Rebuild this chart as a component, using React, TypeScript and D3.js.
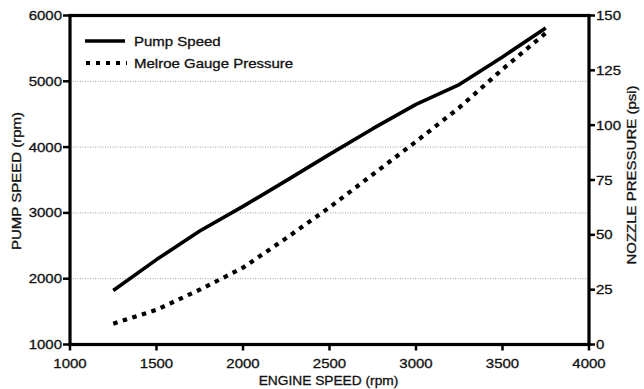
import React from "react";
import * as d3 from "d3";

const engineSpeed = [1250, 1500, 1750, 2000, 2250, 2500, 2750, 3000, 3250, 3500, 3750];
const pumpSpeed = [1820, 2290, 2725, 3100, 3490, 3890, 4280, 4650, 4950, 5370, 5810];
const gaugePressure = [9.5, 15.8, 25, 35, 48.5, 62.5, 77.5, 92.5, 108, 125.5, 142];
const xTicks = [1000, 1500, 2000, 2500, 3000, 3500, 4000];
const leftTicks = [1000, 2000, 3000, 4000, 5000, 6000];
const rightTicks = [0, 25, 50, 75, 100, 125, 150];
const gridValues = [2000, 3000, 4000, 5000];
const legendLabels = ["Pump Speed", "Melroe Gauge Pressure"];
const axisTitles = ["ENGINE SPEED (rpm)", "PUMP SPEED (rpm)", "NOZZLE PRESSURE (psi)"];

const SX = 1.2;

function T({ x, y, rot = 0, anchor = "start", size = 12.5, sx = SX, children }: any) {
  return (
    <text
      transform={`translate(${x},${y}) rotate(${rot}) scale(${sx},1)`}
      textAnchor={anchor}
      fontSize={size}
      fill="#111"
      stroke="#111"
      strokeWidth={0.3}
    >
      {children}
    </text>
  );
}

export default function App() {
  const W = 644, H = 389;
  const left = 70, right = 589, top = 15.5, bottom = 344.5;
  const x = d3.scaleLinear().domain([1000, 4000]).range([left, right]);
  const yL = d3.scaleLinear().domain([1000, 6000]).range([bottom, top]);
  const yR = d3.scaleLinear().domain([0, 150]).range([bottom, top]);
  const pumpLine = d3.line<number>().x((d, i) => x(engineSpeed[i])).y((d) => yL(d))(pumpSpeed) || "";
  const presLine = d3.line<number>().x((d, i) => x(engineSpeed[i])).y((d) => yR(d))(gaugePressure) || "";
  const font = "'Liberation Sans', Arial, Helvetica, sans-serif";
  return (
    <svg width={W} height={H} style={{ position: "absolute", left: 0, top: 0, background: "#fff" }} fontFamily={font}>
      <rect x={0} y={0} width={W} height={H} fill="#fff" />
      {gridValues.map((v) => (
        <line key={v} x1={left} x2={right} y1={yL(v)} y2={yL(v)} stroke="#a0a0a0" strokeWidth={1} strokeDasharray="1,1.5" />
      ))}
      <path d={pumpLine} fill="none" stroke="#000" strokeWidth={3.6} strokeLinejoin="round" />
      <path d={presLine} fill="none" stroke="#000" strokeWidth={4.2} strokeDasharray="4.5,5.5" />
      <rect x={left} y={top} width={right - left} height={bottom - top} fill="none" stroke="#000" strokeWidth={3.2} />
      {xTicks.map((v) => (
        <g key={v}>
          <line x1={x(v)} x2={x(v)} y1={bottom} y2={bottom + 6} stroke="#000" strokeWidth={2.5} />
          <T x={x(v)} y={bottom + 23} anchor="middle">{v}</T>
        </g>
      ))}
      {leftTicks.map((v) => (
        <g key={v}>
          <line x1={left - 7} x2={left} y1={yL(v)} y2={yL(v)} stroke="#000" strokeWidth={2.5} />
          <T x={left - 8} y={yL(v) + 4.5} anchor="end">{v}</T>
        </g>
      ))}
      {rightTicks.map((v) => (
        <g key={v}>
          <line x1={right} x2={right + 6} y1={yR(v)} y2={yR(v)} stroke="#000" strokeWidth={2.5} />
          <T x={right + 7} y={yR(v) + 4.5}>{v}</T>
        </g>
      ))}
      <T x={(left + right) / 2 - 1} y={385} anchor="middle" size={12.5} sx={1.1}>{axisTitles[0]}</T>
      <T x={21} y={181} rot={-90} anchor="middle">{axisTitles[1]}</T>
      <T x={636} y={175} rot={-90} anchor="middle">{axisTitles[2]}</T>
      <line x1={85} x2={125} y1={41} y2={41} stroke="#000" strokeWidth={3.6} />
      <T x={134} y={45.5}>{legendLabels[0]}</T>
      <line x1={86} x2={127} y1={63} y2={63} stroke="#000" strokeWidth={4} strokeDasharray="4,6" />
      <T x={134} y={67.5}>{legendLabels[1]}</T>
    </svg>
  );
}
